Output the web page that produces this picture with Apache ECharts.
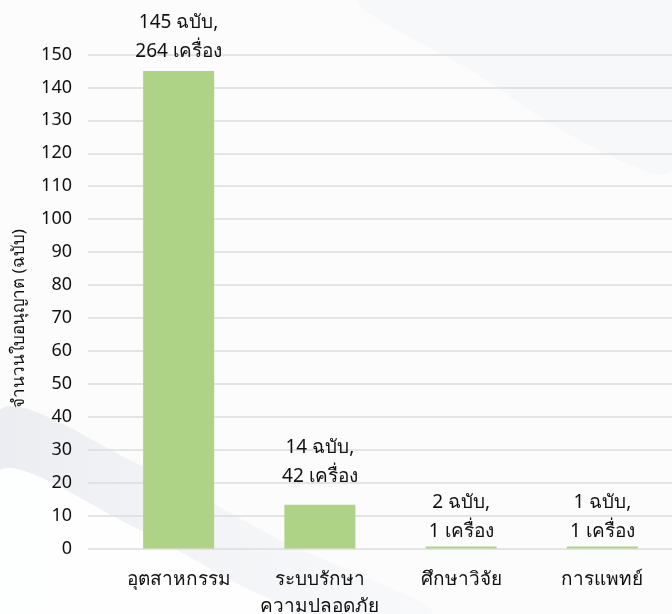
<!DOCTYPE html>
<html>
<head>
<meta charset="utf-8">
<script src="https://cdn.jsdelivr.net/npm/echarts@6/dist/echarts.min.js"></script>
<style>
html,body{margin:0;padding:0;background:#fff;}
#chart{width:672px;height:614px;}
</style>
</head>
<body>
<div id="chart"></div>
<script>
var categories = ['อุตสาหกรรม', 'ระบบรักษา\nความปลอดภัย', 'ศึกษาวิจัย', 'การแพทย์'];
var barValues = [145, 13.3, 0.6, 0.6];
var permits = [145, 14, 2, 1];
var machines = [264, 42, 1, 1];
var yTicks = [0, 10, 20, 30, 40, 50, 60, 70, 80, 90, 100, 110, 120, 130, 140, 150];

var FONT = '"Noto Sans", "DejaVu Sans", sans-serif';
var labelGaps = [5, 14, 0, 0];
var seriesData = barValues.map(function (v, i) {
  return {value: v, label: {distance: labelGaps[i]}};
});
var chart = echarts.init(document.getElementById('chart'));
chart.setOption({
  backgroundColor: '#fcfcfd',
  graphic: [
    {type: 'polygon', silent: true, z: -10,
     shape: {points: [[0, 410], [140, 465], [280, 540], [430, 614], [0, 614]], smooth: 0.3},
     style: {fill: {type: 'linear', x: 0, y: 0, x2: 1, y2: 0,
       colorStops: [{offset: 0, color: 'rgba(228,231,237,0.75)'}, {offset: 1, color: 'rgba(240,242,245,0.3)'}]}}},
    {type: 'polygon', silent: true, z: -9,
     shape: {points: [[0, 470], [130, 525], [230, 580], [290, 614], [0, 614]], smooth: 0.3},
     style: {fill: 'rgba(255,255,255,0.9)'}},
    {type: 'polygon', silent: true, z: -10,
     shape: {points: [[360, 0], [470, 70], [580, 140], [672, 170], [672, 0]], smooth: 0.3},
     style: {fill: 'rgba(242,243,246,0.5)'}}
  ],
  grid: [
    {left: 88, right: 0, top: 54.5, bottom: 65.5, outerBoundsMode: 'none', containLabel: false},
    {left: 108, right: -1, top: 54.5, bottom: 65.5, outerBoundsMode: 'none', containLabel: false}
  ],
  xAxis: [
    {type: 'category', gridIndex: 0, data: categories, show: false},
    {type: 'category', gridIndex: 1, data: categories,
     axisLine: {show: false}, axisTick: {show: false},
     axisLabel: {color: '#111', fontSize: 19, fontFamily: FONT, margin: 18, lineHeight: 27, interval: 0}}
  ],
  yAxis: [
    {type: 'value', gridIndex: 0, min: 0, max: 150, interval: 10,
     name: 'จำนวนใบอนุญาต (ฉบับ)', nameLocation: 'middle', nameGap: 60, nameRotate: 90,
     nameTextStyle: {color: '#111', fontSize: 17, fontFamily: FONT, padding: [0, 34, 0, 0]},
     axisLine: {show: false}, axisTick: {show: false},
     axisLabel: {color: '#111', fontSize: 18, fontFamily: FONT, margin: 16},
     splitLine: {lineStyle: {color: '#dcdcdc', width: 1.5}}},
    {type: 'value', gridIndex: 1, min: 0, max: 150, interval: 10, show: false, splitLine: {show: false}}
  ],
  series: [{
    type: 'bar', xAxisIndex: 1, yAxisIndex: 1,
    data: seriesData, barWidth: 71,
    itemStyle: {color: '#aed387'},
    label: {
      show: true, position: 'top', distance: 8,
      color: '#111', fontSize: 19, fontFamily: FONT, lineHeight: 29, align: 'center',
      formatter: function (p) {
        return permits[p.dataIndex] + ' ฉบับ,\n' + machines[p.dataIndex] + ' เครื่อง';
      }
    }
  }]
});
</script>
</body>
</html>
